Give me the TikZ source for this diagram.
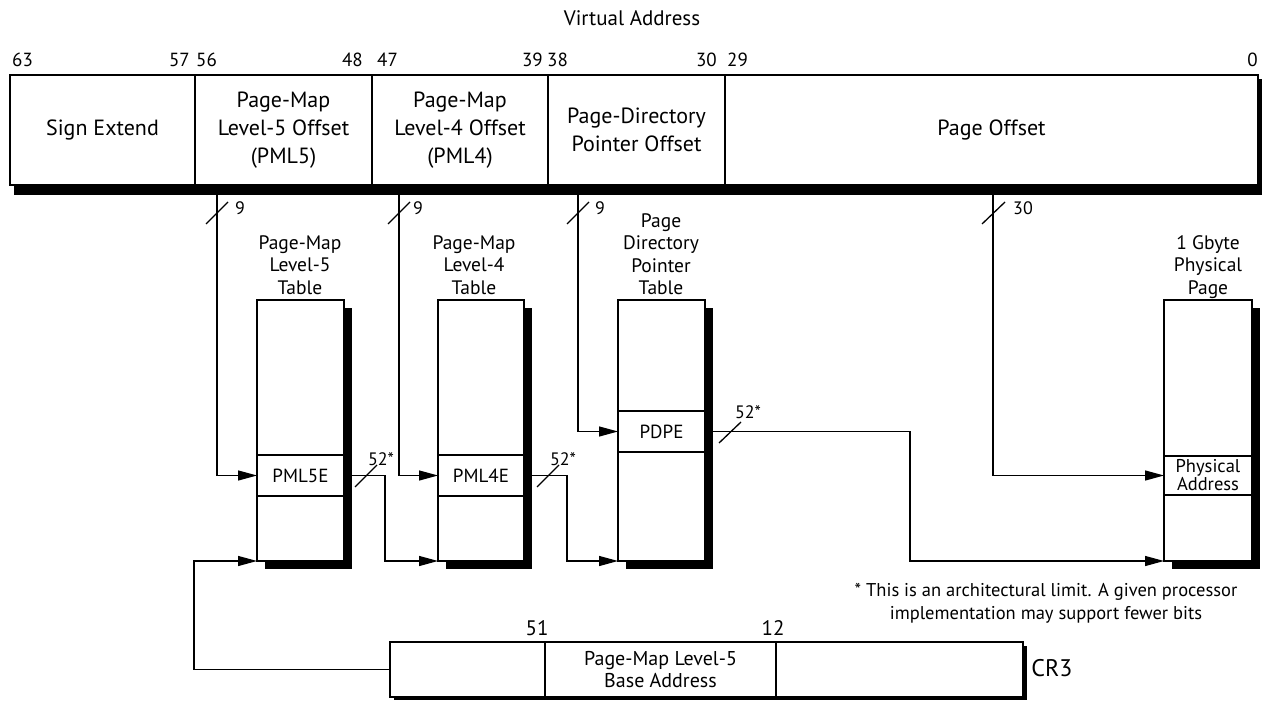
\documentclass[tikz,border=0pt]{standalone}
\usepackage{fontspec}
\setmainfont{PT Sans}
\usetikzlibrary{arrows.meta,calc,shadows}
\begin{document}
\begin{tikzpicture}[x=1pt,y=-1pt,
  field/.style={draw,line width=1.8pt,fill=white,inner sep=0pt,outer sep=0pt,align=center,
     minimum height=110pt,font=\fontsize{22}{28}\selectfont},
  bitlbl/.style={inner sep=0pt,font=\fontsize{19}{20}\selectfont},
  tbl/.style={draw,line width=1.8pt,fill=white,inner sep=0pt,outer sep=0pt,
     minimum height=261pt,
     drop shadow={shadow xshift=8pt,shadow yshift=-8pt,opacity=1,fill=black}},
  entry/.style={draw,line width=1.8pt,fill=white,inner sep=0pt,outer sep=0pt,align=center,
     font=\fontsize{19}{15.5}\selectfont},
  tlabel/.style={align=center,inner sep=0pt,font=\fontsize{19.5}{22.5}\selectfont},
  crf/.style={draw,line width=1.6pt,fill=white,inner sep=0pt,outer sep=0pt,align=center,
     minimum height=55pt,font=\fontsize{20}{22}\selectfont},
  conn/.style={line width=1.3pt,line join=miter,-{Triangle[length=19pt,width=10pt]}},
  slash/.style={line width=1.3pt},
  numlbl/.style={inner sep=0pt,font=\fontsize{18}{20}\selectfont},
]
\useasboundingbox (0,0) rectangle (1263,703);

% title
\node[font=\fontsize{21}{24}\selectfont,inner sep=0pt] (title) at (632,18) {Virtual Address};

% register shadow
\fill (14,185) rectangle (1262,195);
\fill (1254,79) rectangle (1262,195);

% register fields
\node[field,minimum width=185pt] (se)   at (102.5,130) {Sign Extend};
\node[field,minimum width=177pt] (pml5) at (283.5,130) {Page-Map\\Level-5 Offset\\(PML5)};
\node[field,minimum width=176pt] (pml4) at (460,130)   {Page-Map\\Level-4 Offset\\(PML4)};
\node[field,minimum width=177pt] (pdp)  at (636.5,130) {Page-Directory\\Pointer Offset};
\node[field,minimum width=533pt] (po)   at (991.5,130) {Page Offset};

% bit numbers
\node[bitlbl,anchor=west] (b63) at (12,60) {63};
\node[bitlbl,anchor=east] (b57) at (190,60) {57};
\node[bitlbl,anchor=west] (b56) at (196,60) {56};
\node[bitlbl,anchor=east] (b48) at (363,60) {48};
\node[bitlbl,anchor=west] (b47) at (377,60) {47};
\node[bitlbl,anchor=east] (b39) at (543,60) {39};
\node[bitlbl,anchor=west] (b38) at (547,60) {38};
\node[bitlbl,anchor=east] (b30) at (717,60) {30};
\node[bitlbl,anchor=west] (b29) at (727,60) {29};
\node[bitlbl,anchor=east] (b0)  at (1258,60) {0};

% tables
\node[tbl,minimum width=87pt] (t5) at (300.5,430.5) {};
\node[tbl,minimum width=86pt] (t4) at (481,430.5) {};
\node[tbl,minimum width=87pt] (tp) at (661.5,430.5) {};
\node[tbl,minimum width=88pt] (tg) at (1208,430.5) {};

% entries
\node[entry,minimum width=87pt,minimum height=41pt] (e5) at (300.5,475.5) {PML5E};
\node[entry,minimum width=86pt,minimum height=41pt] (e4) at (481,475.5) {PML4E};
\node[entry,minimum width=87pt,minimum height=41pt] (ep) at (661.5,431.5) {PDPE};
\node[entry,minimum width=88pt,minimum height=39pt,font=\fontsize{18.5}{15.5}\selectfont] (ea) at (1208,475.5) {Physical\\Address};

% table labels
\node[tlabel] (l5) at (300,265) {Page-Map\\Level-5\\Table};
\node[tlabel] (l4) at (474,265) {Page-Map\\Level-4\\Table};
\node[tlabel] (lp) at (661,254) {Page\\Directory\\Pointer\\Table};
\node[tlabel] (lg) at (1208,267) {1 Gbyte\\Physical\\Page};

% CR3 register
\fill (394,646) rectangle (1027,700);
\node[crf,minimum width=155pt] (c1) at (467.5,669.5) {};
\node[crf,minimum width=231pt] (c2) at (660.5,669.5) {Page-Map Level-5\\Base Address};
\node[crf,minimum width=247pt] (c3) at (899.5,669.5) {};
\node[bitlbl,font=\fontsize{21}{22}\selectfont] (b51) at (537,628) {51};
\node[bitlbl,font=\fontsize{21}{22}\selectfont] (b12) at (773,628) {12};
\node[inner sep=0pt,font=\fontsize{24}{26}\selectfont] (cr3) at (1052,668) {CR3};

% footnote
\node[align=center,inner sep=0pt,font=\fontsize{18.5}{23}\selectfont] (note) at (1046,603)
  {* This is an architectural limit. A given processor\\implementation may support fewer bits};

% connectors from virtual address
\draw[conn] ($(pml5.south west)+(22,0)$) |- (e5.west);
\draw[conn] ($(pml4.south west)+(27,0)$) |- (e4.west);
\draw[conn] ($(pdp.south west)+(30,0)$) |- (ep.west);
\draw[conn] ($(po.south west)+(268,0)$) |- (ea.west);

% connectors between tables
\draw[conn] (e5.east) -- ++(41,0) |- (t4.south west);
\draw[conn] (e4.east) -- ++(43,0) |- (tp.south west);
\draw[conn] (ep.east) -- ++(205,0) |- (tg.south west);
\draw[conn] (c1.west) -- ++(-196,0) |- (t5.south west);

% slashes and widths
\draw[slash] (206,224) -- ++(22,-22);
\node[numlbl] (n1) at (240,208) {9};
\draw[slash] (388,224) -- ++(22,-22);
\node[numlbl] (n2) at (418,208) {9};
\draw[slash] (567,224) -- ++(22,-22);
\node[numlbl] (n3) at (600,208) {9};
\draw[slash] (982,224) -- ++(23,-22);
\node[numlbl] (n4) at (1023,208) {30};

\draw[slash] (355,487) -- ++(22,-22);
\node[numlbl] (m1) at (381,459) {52*};
\draw[slash] (537,487) -- ++(22,-22);
\node[numlbl] (m2) at (563,459) {52*};
\draw[slash] (719,443) -- ++(22,-21);
\node[numlbl] (m3) at (748,412) {52*};
\end{tikzpicture}
\end{document}
